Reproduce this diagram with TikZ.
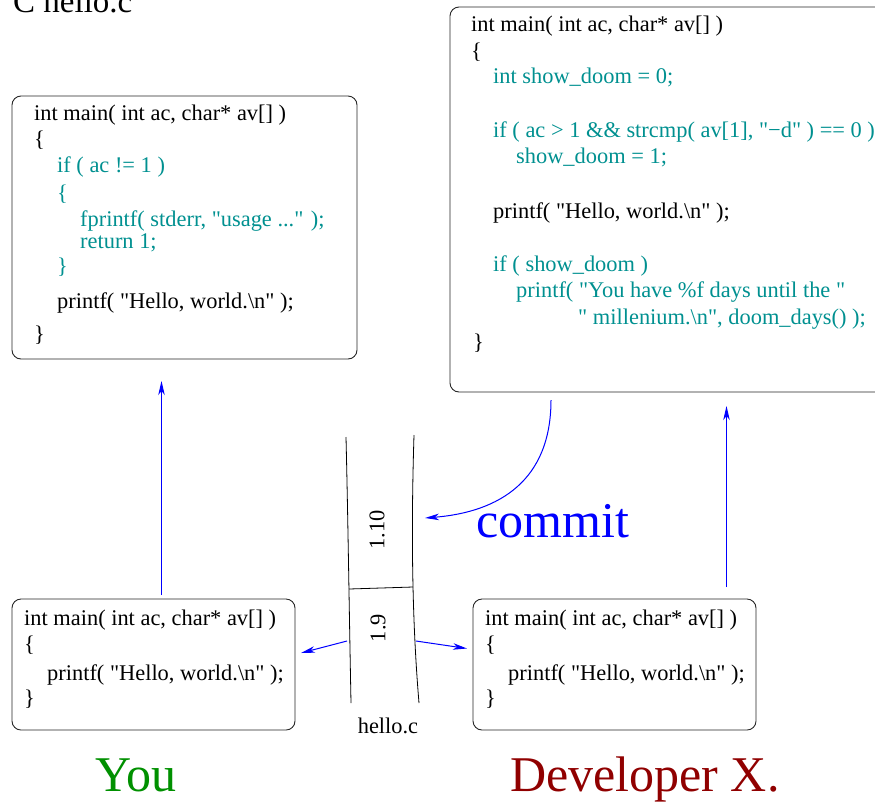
\documentclass[tikz,border=0pt]{standalone}
\usepackage{fontspec}
\setmainfont{Liberation Serif}
\usetikzlibrary{arrows.meta}
\definecolor{codeteal}{RGB}{0,144,144}
\definecolor{youg}{RGB}{0,144,0}
\definecolor{devred}{RGB}{144,0,0}
\newcommand{\qq}{\textquotedbl}
\tikzset{
  code/.style={anchor=base west, inner sep=0pt, font=\fontsize{22.4}{26}\selectfont},
  tcode/.style={code, text=codeteal},
  codebox/.style={draw=black!85, line width=0.9pt, rounded corners=9pt, inner sep=0pt},
  arr/.style={draw=blue, line width=1pt, -{Stealth[length=14pt,width=6.5pt,inset=4pt]}},
  biglabel/.style={anchor=base west, inner sep=0pt, font=\fontsize{50}{60}\selectfont},
  fileline/.style={line width=0.8pt, draw=black},
}
\begin{document}
\begin{tikzpicture}[x=1pt,y=-1pt]
\useasboundingbox (0,0) rectangle (875,801);
\clip (0,0) rectangle (875,801);

% title
\node[anchor=base west, inner sep=0pt, font=\fontsize{33}{40}\selectfont] (title) at (13,12) {C hello.c};

% boxes
\node[codebox, minimum width=345pt, minimum height=263pt] (b1) at (184.5,227.5) {};
\node[codebox, minimum width=440pt, minimum height=385pt] (b2) at (670,199.5) {};
\node[codebox, minimum width=283pt, minimum height=131pt] (b3) at (153.5,664.5) {};
\node[codebox, minimum width=283pt, minimum height=131pt] (b4) at (614.5,664.5) {};

% box 1 text
\node[code]  (a1) at (34,120) {int main( int ac, char* av[] )};
\node[code]  (a2) at (34,146) {\{};
\node[tcode] (a3) at (57,172) {if ( ac != 1 )};
\node[tcode] (a4) at (57,200) {\{};
\node[tcode] (a5) at (80,226.5) {fprintf( stderr, \qq usage ...\qq{} );};
\node[tcode] (a6) at (80,248) {return 1;};
\node[tcode] (a7) at (57,273) {\}};
\node[code]  (a8) at (57,308) {printf( \qq Hello, world.\textbackslash n\qq{} );};
\node[code]  (a9) at (34,341) {\}};

% box 2 text
\node[code]  (c1) at (471,31) {int main( int ac, char* av[] )};
\node[code]  (c2) at (471,58) {\{};
\node[tcode] (c3) at (493,83) {int show\_doom = 0;};
\node[tcode] (c4) at (493,137) {if ( ac > 1 \&\& strcmp( av[1], \qq−d\qq{} ) == 0 )};
\node[tcode] (c5) at (516,163) {show\_doom = 1;};
\node[code]  (c6) at (493,218) {printf( \qq Hello, world.\textbackslash n\qq{} );};
\node[tcode] (c7) at (493,271) {if ( show\_doom )};
\node[tcode] (c8) at (516,297) {printf( \qq You have \%f days until the \qq};
\node[tcode] (c9) at (578,324) {\qq{} millenium.\textbackslash n\qq, doom\_days() );};
\node[code]  (c10) at (473,349) {\}};

% box 3 text
\node[code] (d1) at (24,625) {int main( int ac, char* av[] )};
\node[code] (d2) at (24,651) {\{};
\node[code] (d3) at (47,680) {printf( \qq Hello, world.\textbackslash n\qq{} );};
\node[code] (d4) at (24,705) {\}};

% box 4 text
\node[code] (e1) at (485,625) {int main( int ac, char* av[] )};
\node[code] (e2) at (485,651) {\{};
\node[code] (e3) at (508,680) {printf( \qq Hello, world.\textbackslash n\qq{} );};
\node[code] (e4) at (485,705) {\}};

% file (hello.c)
\draw[fileline] (346,437) .. controls (348,520) and (349,600) .. (351,703);
\draw[fileline] (414,435) .. controls (411,530) and (412,620) .. (419,703);
\draw[fileline] (349,589) -- (413,587);
\node[rotate=90, inner sep=0pt, font=\fontsize{22.4}{26}\selectfont] (v110) at (377,530) {1.10};
\node[rotate=90, inner sep=0pt, font=\fontsize{22.4}{26}\selectfont] (v19) at (378,628) {1.9};
\node[anchor=base, inner sep=0pt, font=\fontsize{22.4}{26}\selectfont] (fname) at (388,733) {hello.c};

% arrows
\coordinate (u1s) at (161.5,595);
\coordinate (u1e) at (161.5,381);
\coordinate (u2s) at (726.5,587);
\coordinate (u2e) at (726.5,406);
\coordinate (cms) at (551,400);
\coordinate (cme) at (425,518);
\coordinate (ls) at (347,641);
\coordinate (le) at (301,653);
\coordinate (rs) at (416,641);
\coordinate (re) at (467,648.5);
\draw[arr] (u1s) -- (u1e);
\draw[arr] (u2s) -- (u2e);
\draw[arr] (cms) .. controls (551,480) and (500,512) .. (cme);
\draw[arr] (ls) -- (le);
\draw[arr] (rs) -- (re);

% labels
\node[biglabel, text=blue] (commit) at (476,537) {commit};
\node[biglabel, text=youg] (you) at (95,791) {You};
\node[biglabel, text=devred] (devx) at (510,791) {Developer X.};
\end{tikzpicture}
\end{document}
